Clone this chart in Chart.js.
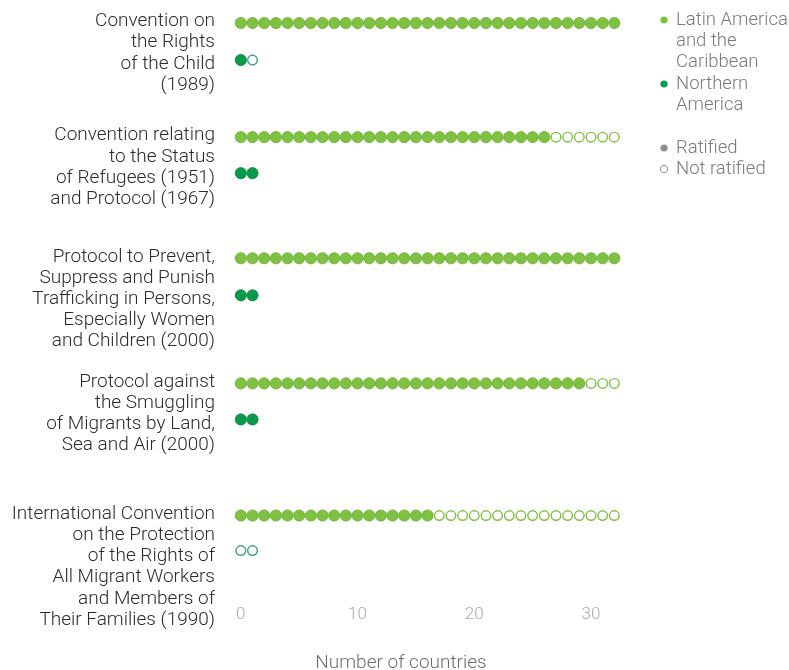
<!DOCTYPE html>
<html>
<head>
<meta charset="utf-8">
<script src="https://cdn.jsdelivr.net/npm/chart.js@4.4.1/dist/chart.umd.min.js"></script>
<style>
  html, body { margin: 0; padding: 0; background: #fff; }
  #wrap { width: 789px; height: 670px; position: relative; }
</style>
</head>
<body>
<div id="wrap"><canvas id="chart"></canvas></div>
<script>
// Data
const conventions = [
  ['Convention on', 'the Rights', 'of the Child', '(1989)'],
  ['Convention relating', 'to the Status', 'of Refugees (1951)', 'and Protocol (1967)'],
  ['Protocol to Prevent,', 'Suppress and Punish', 'Trafficking in Persons,', 'Especially Women', 'and Children (2000)'],
  ['Protocol against', 'the Smuggling', 'of Migrants by Land,', 'Sea and Air (2000)'],
  ['International Convention', 'on the Protection', 'of the Rights of', 'All Migrant Workers', 'and Members of', 'Their Families (1990)']
];
const regionLabels = [['Latin America', 'and the', 'Caribbean'], ['Northern', 'America']];
const statusLabels = ['Ratified', 'Not ratified'];
const lacCountries = 33;
const naCountries = 2;
const lacRatified = [33, 27, 33, 30, 17];
const naRatified = [1, 2, 2, 2, 0];
const xTicks = [0, 10, 20, 30];
const axisTitle = 'Number of countries';

// Layout: vertical position of each row (y axis units = pixels)
const lacRowY = [23, 137, 258, 383, 515];
const naRowY = [60, 173, 295, 419, 550];

const FONT = 'Roboto, "Liberation Sans", sans-serif';
const LAC = '#7fc241';
const LAC_EDGE = '#6aac34';
const NA = '#0a9a4c';
const NA_EDGE = '#08853f';
const NA_OPEN = '#3f9c7c';

// one point per country, split by ratified / not ratified
function dots(ratified, total, rows, filled) {
  const pts = [];
  ratified.forEach((r, i) => {
    for (let k = 0; k < total; k++) {
      if ((k < r) === filled) pts.push({ x: k, y: rows[i] });
    }
  });
  return pts;
}

const sidePlugin = {
  id: 'side',
  afterDraw(chart) {
    const ctx = chart.ctx;
    const y = chart.scales.y;
    ctx.save();
    // row labels
    ctx.font = '300 19px ' + FONT;
    ctx.fillStyle = '#2b2b2b';
    ctx.textAlign = 'right';
    ctx.textBaseline = 'middle';
    conventions.forEach((lines, i) => {
      const top = y.getPixelForValue(lacRowY[i]) - 1.5;
      lines.forEach((t, j) => ctx.fillText(t, 215, top + j * 21.2));
    });

    // legend
    ctx.font = '300 18.5px ' + FONT;
    ctx.textAlign = 'left';
    const dot = (x, yy, fill, stroke) => {
      ctx.beginPath();
      ctx.arc(x, yy, 3.6, 0, Math.PI * 2);
      if (fill) { ctx.fillStyle = fill; ctx.fill(); }
      if (stroke) { ctx.strokeStyle = stroke; ctx.lineWidth = 1; ctx.stroke(); }
    };
    const entries = [
      { lines: regionLabels[0], y: 20, fill: LAC },
      { lines: regionLabels[1], y: 84, fill: NA },
      { lines: [statusLabels[0]], y: 148, fill: '#8f8f93' },
      { lines: [statusLabels[1]], y: 169, fill: '#fff', stroke: '#8f8f93' }
    ];
    entries.forEach(e => {
      dot(664, e.y, e.fill, e.stroke);
      ctx.fillStyle = '#7a7a7a';
      e.lines.forEach((t, j) => ctx.fillText(t, 676, e.y + j * 21.2));
    });

    // axis title
    ctx.font = '300 19px ' + FONT;
    ctx.textAlign = 'center';
    ctx.fillStyle = '#6e6e6e';
    ctx.fillText(axisTitle, 401, 663);
    ctx.restore();
  }
};

new Chart(document.getElementById('chart'), {
  type: 'scatter',
  data: {
    datasets: [
      {
        label: 'Latin America and the Caribbean, ratified',
        data: dots(lacRatified, lacCountries, lacRowY, true),
        backgroundColor: LAC,
        borderColor: LAC_EDGE,
        borderWidth: 0.8,
        pointRadius: 5.6
      },
      {
        label: 'Latin America and the Caribbean, not ratified',
        data: dots(lacRatified, lacCountries, lacRowY, false),
        backgroundColor: '#fff',
        borderColor: LAC,
        borderWidth: 1.4,
        pointRadius: 4.8
      },
      {
        label: 'Northern America, ratified',
        data: dots(naRatified, naCountries, naRowY, true),
        backgroundColor: NA,
        borderColor: NA_EDGE,
        borderWidth: 0.8,
        pointRadius: 5.6
      },
      {
        label: 'Northern America, not ratified',
        data: dots(naRatified, naCountries, naRowY, false),
        backgroundColor: '#fff',
        borderColor: NA_OPEN,
        borderWidth: 1.4,
        pointRadius: 4.8
      }
    ]
  },
  options: {
    responsive: true,
    maintainAspectRatio: false,
    animation: false,
    clip: false,
    layout: { autoPadding: false, padding: { left: 235, right: 170, top: 0, bottom: 41 } },
    plugins: {
      legend: { display: false },
      tooltip: { enabled: false }
    },
    scales: {
      x: {
        type: 'linear',
        min: -0.5,
        max: 32.4,
        grid: { display: false, drawTicks: false },
        border: { display: false },
        afterBuildTicks: axis => { axis.ticks = xTicks.map(v => ({ value: v })); },
        ticks: {
          padding: 4,
          color: '#ababab',
          font: { family: FONT, size: 17, weight: '300' }
        }
      },
      y: {
        type: 'linear',
        display: false,
        reverse: true,
        min: 0,
        max: 600
      }
    }
  },
  plugins: [sidePlugin]
});
</script>
</body>
</html>
